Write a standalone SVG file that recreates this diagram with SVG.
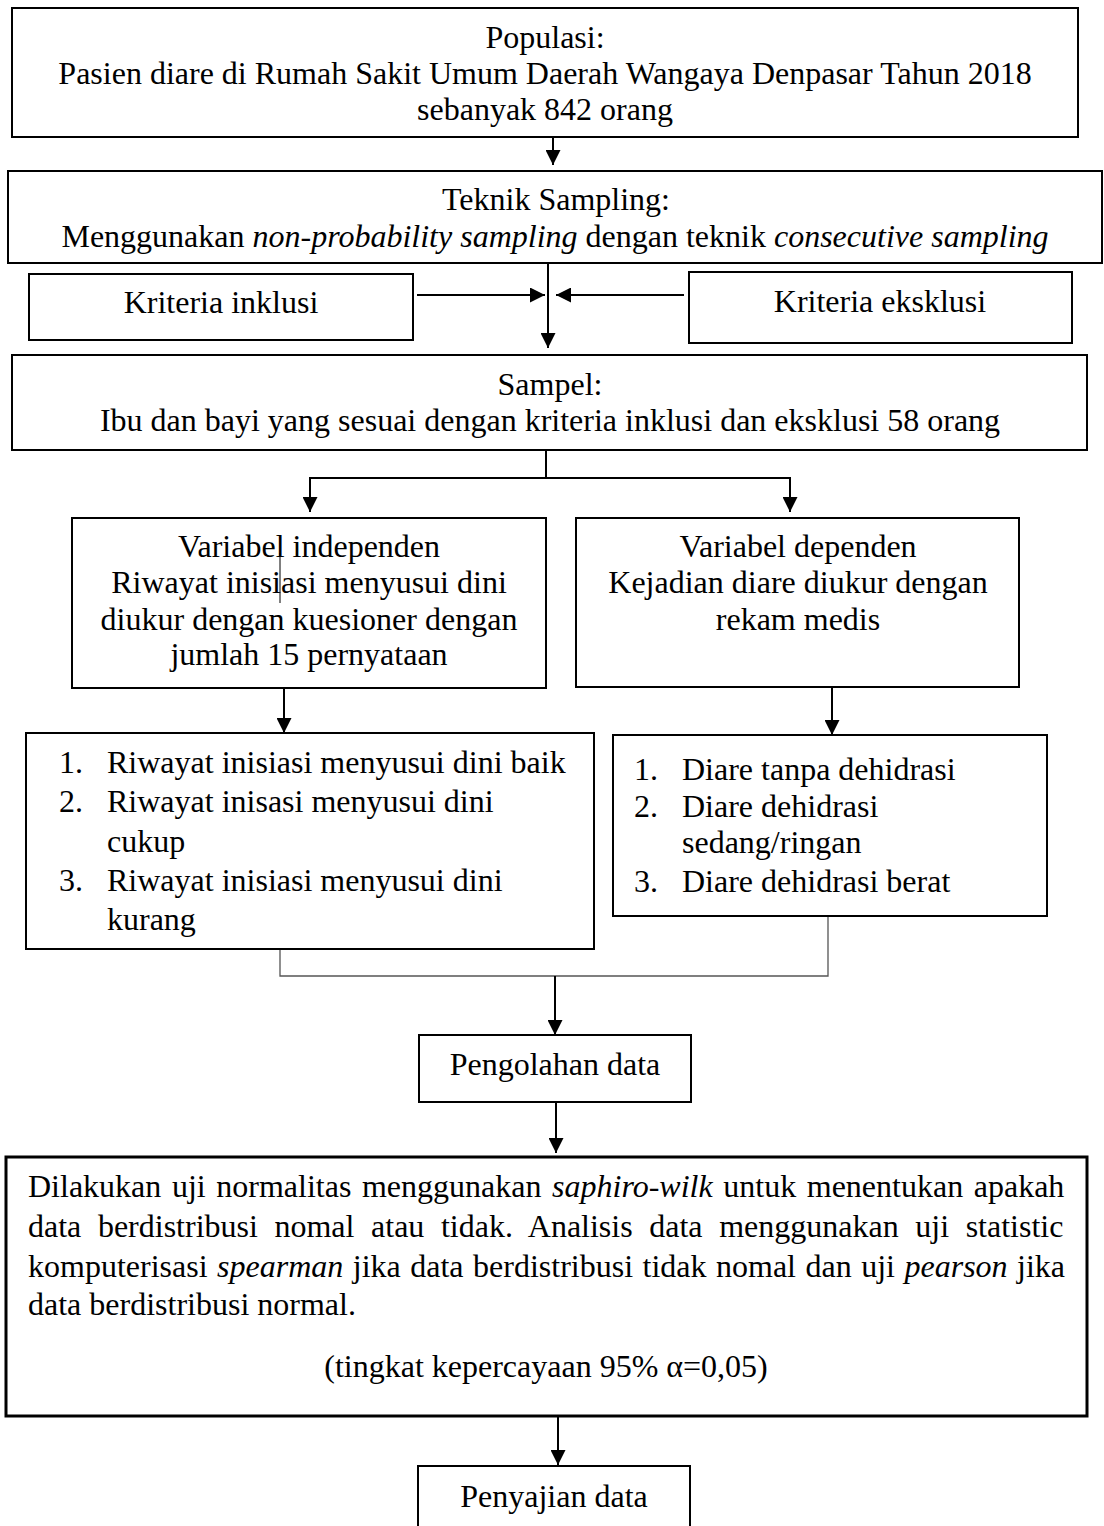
<svg xmlns="http://www.w3.org/2000/svg" width="1104" height="1526" viewBox="0 0 1104 1526">
<style>
.box{fill:#fff;stroke:#000;stroke-width:2}
.thick{stroke-width:3}
text{font-family:"Liberation Serif","Times New Roman",serif;font-size:32px;fill:#000}
.c{text-anchor:middle}
.i{font-style:italic}
.ln{fill:none;stroke:#000;stroke-width:2}
.thin{fill:none;stroke:#555;stroke-width:1.3}
</style>
<defs>
<marker id="ah" markerUnits="userSpaceOnUse" markerWidth="16" markerHeight="15" refX="15" refY="7.5" orient="auto">
<path d="M0,0 L15,7.5 L0,15 z" fill="#000"/>
</marker>
</defs>
<rect width="1104" height="1526" fill="#fff"/>

<g id="connectors">
<line class="ln" x1="553" y1="137" x2="553" y2="165" marker-end="url(#ah)"/>
<line class="ln" x1="548" y1="263" x2="548" y2="348" marker-end="url(#ah)"/>
<line class="ln" x1="417" y1="295" x2="545" y2="295" marker-end="url(#ah)"/>
<line class="ln" x1="684" y1="295" x2="556" y2="295" marker-end="url(#ah)"/>
<line class="ln" x1="546" y1="450" x2="546" y2="478"/>
<polyline class="ln" points="546,478 310,478 310,512" marker-end="url(#ah)"/>
<polyline class="ln" points="546,478 790,478 790,512" marker-end="url(#ah)"/>
<line class="ln" x1="284" y1="688" x2="284" y2="733" marker-end="url(#ah)"/>
<line class="ln" x1="832" y1="687" x2="832" y2="735" marker-end="url(#ah)"/>
<polyline class="thin" points="280,949 280,976 828,976 828,916"/>
<line class="ln" x1="555" y1="976" x2="555" y2="1035" marker-end="url(#ah)"/>
<line class="ln" x1="556" y1="1102" x2="556" y2="1153" marker-end="url(#ah)"/>
<line class="ln" x1="558" y1="1416" x2="558" y2="1465" marker-end="url(#ah)"/>
</g>

<g id="populasi">
<rect class="box" x="12" y="8" width="1066" height="129"/>
<text class="c" x="545" y="48">Populasi:</text>
<text class="c" x="545" y="84">Pasien diare di Rumah Sakit Umum Daerah Wangaya Denpasar Tahun 2018</text>
<text class="c" x="545" y="120">sebanyak 842 orang</text>
</g>

<g id="teknik-sampling">
<rect class="box" x="8" y="171" width="1094" height="92"/>
<text class="c" x="556" y="210">Teknik Sampling:</text>
<text class="c" x="555" y="247">Menggunakan <tspan class="i">non-probability sampling</tspan> dengan teknik <tspan class="i">consecutive sampling</tspan></text>
</g>

<g id="kriteria-inklusi">
<rect class="box" x="29" y="274" width="384" height="66"/>
<text class="c" x="221" y="313">Kriteria inklusi</text>
</g>

<g id="kriteria-eksklusi">
<rect class="box" x="689" y="272" width="383" height="71"/>
<text class="c" x="880" y="312">Kriteria eksklusi</text>
</g>

<g id="sampel">
<rect class="box" x="12" y="355" width="1075" height="95"/>
<text class="c" x="550" y="395">Sampel:</text>
<text class="c" x="550" y="431">Ibu dan bayi yang sesuai dengan kriteria inklusi dan eksklusi 58 orang</text>
</g>

<g id="variabel-independen">
<rect class="box" x="72" y="518" width="474" height="170"/>
<text class="c" x="309" y="557">Variabel independen</text>
<text class="c" x="309" y="593">Riwayat inisiasi menyusui dini</text>
<text class="c" x="309" y="630">diukur dengan kuesioner dengan</text>
<text class="c" x="309" y="665">jumlah 15 pernyataan</text>
<line x1="280" y1="553" x2="280" y2="603" stroke="#000" stroke-width="1"/>
</g>

<g id="variabel-dependen">
<rect class="box" x="576" y="518" width="443" height="169"/>
<text class="c" x="798" y="557">Variabel dependen</text>
<text class="c" x="798" y="593">Kejadian diare diukur dengan</text>
<text class="c" x="798" y="630">rekam medis</text>
</g>

<g id="kategori-imd">
<rect class="box" x="26" y="733" width="568" height="216"/>
<text x="59" y="773">1.</text><text x="107" y="773">Riwayat inisiasi menyusui dini baik</text>
<text x="59" y="812">2.</text><text x="107" y="812">Riwayat inisasi menyusui dini</text>
<text x="107" y="852">cukup</text>
<text x="59" y="891">3.</text><text x="107" y="891">Riwayat inisiasi menyusui dini</text>
<text x="107" y="930">kurang</text>
</g>

<g id="kategori-diare">
<rect class="box" x="613" y="735" width="434" height="181"/>
<text x="634" y="780">1.</text><text x="682" y="780">Diare tanpa dehidrasi</text>
<text x="634" y="817">2.</text><text x="682" y="817">Diare dehidrasi</text>
<text x="682" y="853">sedang/ringan</text>
<text x="634" y="892">3.</text><text x="682" y="892">Diare dehidrasi berat</text>
</g>

<g id="pengolahan-data">
<rect class="box" x="419" y="1035" width="272" height="67"/>
<text class="c" x="555" y="1075">Pengolahan data</text>
</g>

<g id="analisis">
<rect class="box thick" x="6" y="1157" width="1081" height="259"/>
<text x="28" y="1197" word-spacing="2.6">Dilakukan uji normalitas menggunakan <tspan class="i">saphiro-wilk</tspan> untuk menentukan apakah</text>
<text x="28" y="1237" word-spacing="8.6">data berdistribusi nomal atau tidak. Analisis data menggunakan uji statistic</text>
<text x="28" y="1277" word-spacing="1.5">komputerisasi <tspan class="i">spearman</tspan> jika data berdistribusi tidak nomal dan uji <tspan class="i">pearson</tspan> jika</text>
<text x="28" y="1315">data berdistribusi normal.</text>
<text class="c" x="546" y="1377">(tingkat kepercayaan 95% α=0,05)</text>
</g>

<g id="penyajian-data">
<rect class="box" x="418" y="1466" width="272" height="80"/>
<text class="c" x="554" y="1507">Penyajian data</text>
</g>
</svg>
